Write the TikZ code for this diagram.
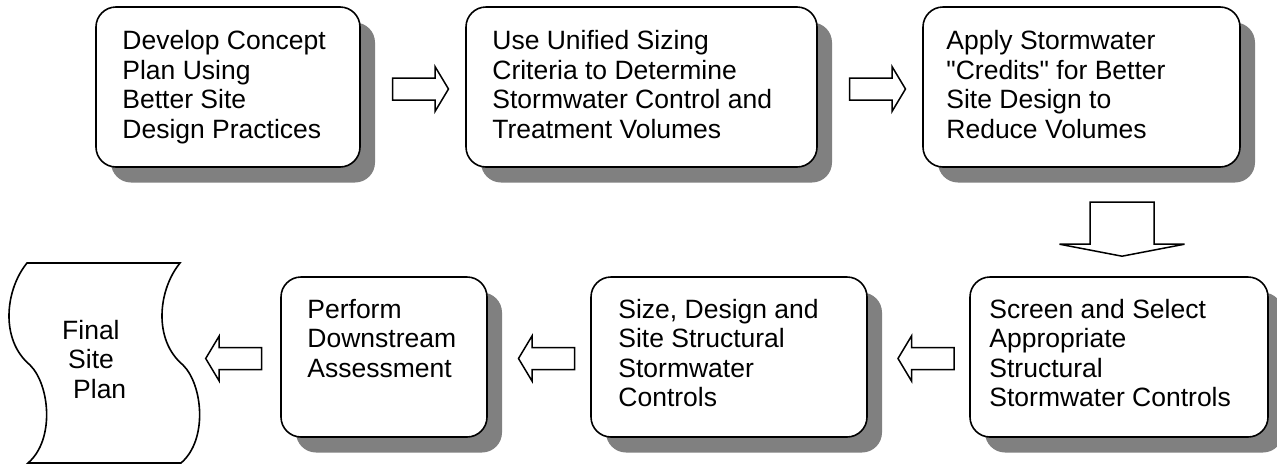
\documentclass[tikz,border=0pt]{standalone}
\usepackage{fontspec}
\setmainfont{Liberation Sans}[Ligatures=TeXOff]
\usetikzlibrary{shadows,calc}
\definecolor{shadowgray}{HTML}{808080}
\newcommand\boxlines[1]{\begin{tabular}[t]{@{}l@{}}#1\end{tabular}}
\tikzset{
  procbox/.style={draw=black, line width=1.6pt, fill=white, rounded corners=20pt,
    minimum height=160pt, inner sep=0pt,
    general shadow={fill=shadowgray, shadow xshift=15pt, shadow yshift=-15.5pt}},
  boxtext/.style={anchor=base west, inner sep=0pt,
    font=\fontsize{26.5}{29.5}\selectfont},
  blockarrow/.style={draw=black, line width=1.5pt, fill=white, line join=miter},
  rblock/.pic={\draw[blockarrow] (-28,-11) -- (14.5,-11) -- (14.5,-22.5) -- (28,0)
      -- (14.5,22.5) -- (14.5,11) -- (-28,11) -- cycle;},
  dblock/.pic={\draw[blockarrow] (-32,0) -- (-32,42) -- (-62.5,42) -- (0,54)
      -- (62.5,42) -- (32,42) -- (32,0) -- cycle;},
  tapeshape/.style={draw=black, line width=1.6pt, fill=white}
}
\begin{document}
\begin{tikzpicture}[x=1pt,y=-1pt]
\useasboundingbox (0,0) rectangle (1277,464);
% top row
\node[procbox, minimum width=264pt] (b1) at (228,87) {};
\node[procbox, minimum width=351pt] (b2) at (641.5,87) {};
\node[procbox, minimum width=317pt] (b3) at (1081.5,87) {};
% bottom row
\node[procbox, minimum width=298pt] (b4) at (1119,357) {};
\node[procbox, minimum width=276pt] (b5) at (729,357) {};
\node[procbox, minimum width=206pt] (b6) at (384,357) {};
% texts
\node[boxtext] (t1) at ($(b1.north west)+(27,43.5)$) {\boxlines{Develop Concept\\Plan Using\\Better Site\\Design Practices}};
\node[boxtext] (t2) at ($(b2.north west)+(27,43.5)$) {\boxlines{Use Unified Sizing\\Criteria to Determine\\Stormwater Control and\\Treatment Volumes}};
\node[boxtext] (t3) at ($(b3.north west)+(24,43.5)$) {\boxlines{Apply Stormwater\\"Credits" for Better\\Site Design to\\Reduce Volumes}};
\node[boxtext] (t4) at ($(b4.north west)+(20,42)$) {\boxlines{Screen and Select\\Appropriate\\Structural\\Stormwater Controls}};
\node[boxtext] (t5) at ($(b5.north west)+(28,42)$) {\boxlines{Size, Design and\\Site Structural\\Stormwater\\Controls}};
\node[boxtext] (t6) at ($(b6.north west)+(27,42)$) {\boxlines{Perform\\Downstream\\Assessment}};
% final site plan (tape shape)
\path[tapeshape] (27,263) -- (180,263) .. controls (158,290) and (153,340) .. (183,365)
  .. controls (203,385) and (208,440) .. (181,463) -- (28,463)
  .. controls (55,440) and (50,385) .. (30,365)
  .. controls (0,340) and (5,290) .. (27,263) -- cycle;
\node[boxtext] (fin) at (62,339) {\boxlines{Final\\\hspace*{6pt}Site\\\hspace*{11pt}Plan}};
% block arrows
\pic at ($(b1.east)!0.5!(b2.west)+(7.5,2)$) {rblock};
\pic at ($(b2.east)!0.5!(b3.west)+(7.5,2)$) {rblock};
\pic at ($(b4.north)+(3,-74)$) {dblock};
\pic[rotate=180] at ($(b5.east)!0.5!(b4.west)+(7.5,1.5)$) {rblock};
\pic[rotate=180] at ($(b6.east)!0.5!(b5.west)+(7.5,1.5)$) {rblock};
\pic[rotate=180] at ($(b6.west)+(-46.5,1.5)$) {rblock};
\end{tikzpicture}
\end{document}
